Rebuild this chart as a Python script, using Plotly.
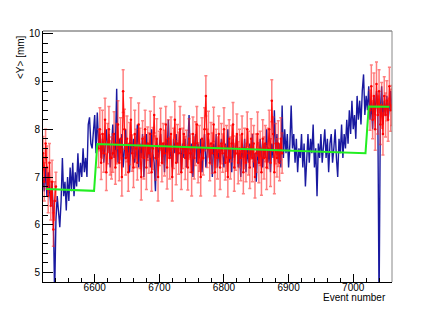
import plotly.graph_objects as go

# ---------------- data ----------------
blue_start, blue_step = 6520, 2
blue_y = [
    # 6520-6598
    7.0, 6.7, 7.2, 6.6, 7.1, 6.8, 6.4, 6.9, 6.2, 4.5,
    6.1, 6.6, 6.3, 5.95, 6.5, 7.4, 6.6, 6.9, 6.3, 7.0,
    6.5, 7.2, 6.7, 7.3, 6.6, 7.1, 6.8, 7.5, 6.9, 7.3,
    7.0, 7.6, 7.1, 7.4, 7.0, 8.1, 8.25, 7.7, 7.6, 7.9,
    # 6600-6890
    8.3, 7.5, 8.35, 7.7, 7.9, 7.4, 7.8, 7.3, 7.6, 8.0,
    7.5, 7.9, 7.2, 7.7, 8.1, 7.4, 7.6, 8.85, 7.3, 7.8,
    7.5, 7.9, 7.2, 7.6, 8.0, 7.4, 7.7, 7.1, 7.9, 7.5,
    7.8, 7.3, 7.6, 8.1, 7.2, 7.7, 7.4, 7.9, 7.0, 7.6,
    7.9, 7.4, 7.7, 7.2, 8.0, 7.5, 7.3, 6.7, 7.8, 7.4,
    7.6, 7.9, 7.3, 7.7, 7.1, 7.8, 7.5, 8.2, 7.4, 7.6,
    7.2, 7.8, 7.5, 7.9, 7.3, 7.6, 8.0, 7.1, 7.7, 7.4,
    7.8, 7.2, 7.6, 8.3, 7.4, 7.7, 7.0, 7.6, 7.9, 7.3,
    7.7, 7.4, 7.8, 7.1, 7.6, 7.9, 7.2, 7.5, 7.8, 7.3,
    7.6, 7.0, 7.7, 7.4, 7.9, 7.2, 7.6, 7.3, 7.8, 7.5,
    7.2, 7.7, 7.4, 8.0, 7.3, 7.6, 7.1, 7.8, 7.4, 7.6,
    7.9, 7.2, 7.5, 7.0, 7.7, 7.4, 7.8, 7.1, 7.6, 7.3,
    7.7, 7.4, 7.9, 7.2, 7.5, 6.9, 7.6, 7.3, 7.8, 7.5,
    7.2, 7.7, 7.4, 8.0, 7.3, 7.6, 7.1, 7.7, 7.4, 8.4,
    7.5, 7.9, 7.3, 7.7, 7.2, 8.5,
    # 6892-7020
    7.4, 8.0, 7.5, 7.9, 7.2, 7.7, 8.5, 7.6, 7.9, 7.3,
    7.8, 7.1, 7.6, 7.4, 7.9, 7.2, 7.7, 6.8, 7.5, 7.9,
    7.3, 7.8, 7.5, 8.1, 7.2, 7.6, 6.6, 7.7, 7.4, 7.9,
    7.3, 7.6, 8.0, 7.4, 7.8, 7.1, 7.7, 7.9, 7.3, 7.6,
    8.0, 7.4, 7.0, 7.8, 7.5, 8.1, 7.4, 7.9, 7.6, 8.2,
    7.7, 8.4, 7.9, 8.6, 8.0, 8.3, 7.8, 8.7, 8.2, 8.6,
    8.1, 8.8, 9.15, 8.3, 8.7,
    # 7022-7060
    8.4, 8.9, 8.2, 8.6, 8.0, 8.7, 8.3, 8.8, 8.5, 4.3,
    8.4, 8.9, 8.1, 8.6, 8.3, 8.7, 8.2, 8.5, 8.8, 8.4,
]

red_step = 2
red1_start = 6520
red1_y = [7.5, 6.9, 7.7, 7.2, 6.6, 7.3, 6.4, 6.9, 5.9, 6.5, 6.8]
red1_err = [0.35, 0.4, 0.3, 0.45, 0.35, 0.4, 0.3, 0.45, 0.35, 0.4, 0.3]

red2_start = 6606
red2_y = [
    7.6, 8.0, 7.3, 7.9, 7.5, 8.2, 7.1, 7.7, 8.0, 7.4,
    7.4, 7.5, 7.9, 7.2, 7.7, 8.1, 7.3, 7.8, 7.0, 8.8,
    8.0, 7.4, 7.8, 7.1, 7.7, 8.2, 7.5, 7.2, 7.9, 7.6,
    7.3, 8.1, 7.6, 7.0, 7.8, 7.4, 8.0, 7.2, 7.7, 7.5,
    7.9, 7.1, 7.6, 8.3, 7.4, 7.8, 7.0, 7.6, 8.0, 7.3,
    7.7, 7.5, 8.1, 7.2, 7.8, 7.4, 7.9, 7.0, 7.6, 8.2,
    7.3, 7.7, 7.5, 8.0, 7.1, 7.6, 7.9, 7.4, 7.6, 7.2,
    7.8, 7.5, 7.1, 7.9, 7.4, 7.7, 8.1, 7.3, 7.6, 7.0,
    7.8, 7.4, 8.0, 8.7, 7.6, 7.9, 7.3, 7.7, 7.5, 8.1,
    7.1, 7.6, 7.4, 7.9, 7.2, 7.7, 7.5, 8.0, 7.3, 7.6,
    7.0, 7.8, 7.4, 7.7, 8.1, 7.2, 7.5, 7.9, 7.3, 7.6,
    7.4, 7.9, 7.1, 7.6, 7.3, 8.0, 7.5, 7.2, 7.8, 7.4,
    7.7, 7.0, 7.5, 7.9, 7.3, 7.6, 7.1, 7.8, 7.4, 7.7,
    7.2, 7.6, 8.0, 7.3, 8.6, 7.9, 7.1, 7.7, 7.4, 7.7,
    7.3, 7.8, 7.5,
]
red2_err = [
    0.40, 0.45, 0.35, 0.50, 0.40, 0.45, 0.38, 0.42, 0.48, 0.36,
    0.44, 0.40, 0.47, 0.35, 0.42, 0.50, 0.38, 0.44, 0.40, 0.45,
    0.42, 0.36, 0.48, 0.40, 0.44, 0.46, 0.38, 0.42, 0.50, 0.40,
    0.36, 0.45, 0.42, 0.48, 0.38, 0.44, 0.40, 0.46, 0.35, 0.42,
    0.48, 0.40, 0.44, 0.38, 0.46, 0.42, 0.50, 0.36, 0.44, 0.40,
    0.42, 0.48, 0.38, 0.45, 0.40, 0.44, 0.36, 0.50, 0.42, 0.38,
    0.46, 0.40, 0.44, 0.48, 0.36, 0.42, 0.40, 0.45, 0.38, 0.47,
    0.42, 0.40, 0.50, 0.36, 0.44, 0.46, 0.38, 0.42, 0.48, 0.40,
    0.44, 0.36, 0.45, 0.42, 0.40, 0.48, 0.38, 0.44, 0.42, 0.36,
    0.50, 0.40, 0.44, 0.38, 0.46, 0.42, 0.40, 0.45, 0.36, 0.48,
    0.42, 0.40, 0.44, 0.38, 0.46, 0.50, 0.36, 0.42, 0.44, 0.40,
    0.48, 0.38, 0.45, 0.42, 0.40, 0.36, 0.46, 0.44, 0.42, 0.50,
    0.38, 0.44, 0.40, 0.46, 0.42, 0.36, 0.48, 0.40, 0.44, 0.38,
    0.46, 0.42, 0.40, 0.50, 0.44, 0.36, 0.45, 0.42, 0.40, 0.48,
    0.38, 0.44, 0.42,
]

red3_start = 7026
red3_y = [8.4, 8.9, 8.2, 8.7, 8.0, 8.95, 8.3, 8.8, 8.1, 8.5,
          7.9, 8.7, 8.3, 8.6, 8.2, 8.9, 8.4, 8.5]
red3_err = [0.42, 0.45, 0.40, 0.48, 0.44, 0.46, 0.40, 0.45, 0.42, 0.48,
            0.44, 0.40, 0.46, 0.42, 0.45, 0.40, 0.44, 0.42]

fit_x = [6525, 6599, 6604, 7019, 7024, 7056]
fit_y = [6.75, 6.71, 7.69, 7.50, 8.48, 8.47]

x_range = [6520, 7060]
y_range = [4.8, 10.06]
x_ticks = [6600, 6700, 6800, 6900, 7000]
y_ticks = [5, 6, 7, 8, 9, 10]

# ---------------- figure ----------------
def xs(start, n):
    return [start + red_step * i for i in range(n)]

fig = go.Figure()
fig.add_trace(go.Scatter(
    x=[blue_start + blue_step * i for i in range(len(blue_y))], y=blue_y,
    mode="lines", line=dict(color="rgba(0,0,150,0.9)", width=1.4),
    hoverinfo="skip", showlegend=False))

for st, yy, ee in [(red1_start, red1_y, red1_err),
                   (red2_start, red2_y, red2_err),
                   (red3_start, red3_y, red3_err)]:
    fig.add_trace(go.Scatter(
        x=xs(st, len(yy)), y=yy, mode="lines+markers",
        line=dict(color="rgba(255,0,0,0.9)", width=1.2),
        marker=dict(color="red", size=2.5),
        error_y=dict(type="data", array=ee, visible=True,
                     color="rgba(255,40,40,0.6)", thickness=1.5, width=1.5),
        hoverinfo="skip", showlegend=False))

fig.add_trace(go.Scatter(
    x=fit_x, y=fit_y, mode="lines",
    line=dict(color="#22ee22", width=2),
    hoverinfo="skip", showlegend=False))

font = dict(family="Liberation Sans, Arial, sans-serif", size=10, color="black")

# the page adds an 8 px body margin, so the figure is sized/offset to match
fig.update_layout(
    width=428, height=306,
    margin=dict(l=35, r=44, t=23, b=32),
    paper_bgcolor="white", plot_bgcolor="white",
    font=font,
    xaxis=dict(range=x_range, tickvals=x_ticks, ticks="inside", ticklen=8,
               tickcolor="black", showline=True, linecolor="black",
               linewidth=1, showgrid=False, zeroline=False,
               ticklabelstandoff=-4,
               minor=dict(ticks="inside", dtick=20, tick0=6600, ticklen=4,
                          tickcolor="black", showgrid=False)),
    yaxis=dict(range=y_range, tickvals=y_ticks, ticks="inside", ticklen=10,
               tickcolor="black", showline=True, linecolor="black",
               linewidth=1, showgrid=False, zeroline=False,
               minor=dict(ticks="inside", dtick=0.2, tick0=5, ticklen=5,
                          tickcolor="black", showgrid=False)),
    shapes=[
        dict(type="line", xref="paper", yref="paper", x0=0, x1=1, y0=1, y1=1,
             line=dict(color="#555555", width=1)),
        dict(type="line", xref="paper", yref="paper", x0=1, x1=1, y0=0, y1=1,
             line=dict(color="#888888", width=1)),
    ],
    annotations=[
        dict(text="Event number", xref="paper", yref="paper",
             x=0.9885, y=-0.062, xanchor="right", yanchor="middle",
             showarrow=False, font=font),
        dict(text="&lt;Y&gt; [mm]", xref="paper", yref="paper",
             x=-0.066, y=0.992, xanchor="center", yanchor="top",
             textangle=-90, showarrow=False, font=font),
    ],
)

fig.write_html("out.html")
